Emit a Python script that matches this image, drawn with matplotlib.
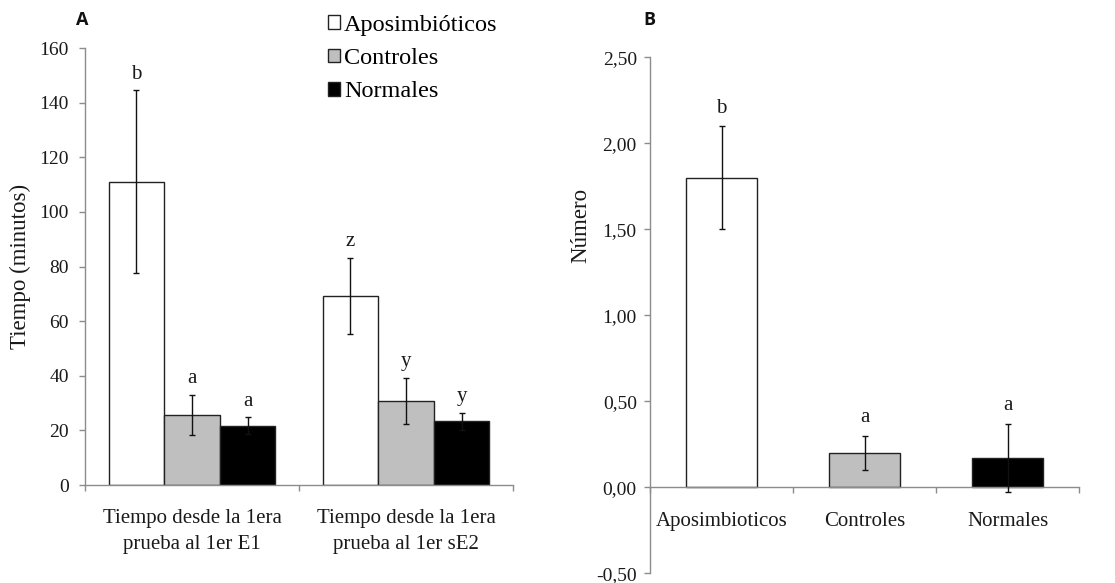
import matplotlib
matplotlib.use("Agg")
import matplotlib.pyplot as plt
from matplotlib.ticker import FixedLocator, FuncFormatter
from matplotlib.patches import Patch

plt.rcParams['font.family'] = ['Liberation Serif', 'DejaVu Serif']

# ---------------- data ----------------
groups = ["Aposimbióticos", "Controles", "Normales"]
group_colors = ["#ffffff", "#bfbfbf", "#000000"]

categories_A = ["Tiempo desde la 1era\nprueba al 1er E1",
                "Tiempo desde la 1era\nprueba al 1er sE2"]
apo_A = [111.0, 69.2]
apo_err_A = [33.5, 14.0]
ctrl_A = [25.7, 30.8]
ctrl_err_A = [7.4, 8.5]
norm_A = [21.7, 23.3]
norm_err_A = [3.1, 3.1]
letters_apo_A = ["b", "z"]
letters_ctrl_A = ["a", "y"]
letters_norm_A = ["a", "y"]
yticks_A = [0, 20, 40, 60, 80, 100, 120, 140, 160]

categories_B = ["Aposimbioticos", "Controles", "Normales"]
values_B = [1.80, 0.20, 0.17]
err_B = [0.30, 0.10, 0.20]
letters_B = ["b", "a", "a"]
yticks_B = [-0.5, 0.0, 0.5, 1.0, 1.5, 2.0, 2.5]

# ---------------- figure ----------------
W, H = 1115, 583
fig = plt.figure(figsize=(W / 100, H / 100), dpi=100)

spine_col = "#8c8c8c"
txt_col = "#1a1a1a"
tick_fs = 14
cat_fs = 15
label_fs = 16.5
letter_fs = 15

def style_axes(ax):
    for s in ["top", "right"]:
        ax.spines[s].set_visible(False)
    for s in ["left", "bottom"]:
        ax.spines[s].set_color(spine_col)
        ax.spines[s].set_linewidth(1.0)
    ax.tick_params(axis="both", which="major", color=spine_col, length=4.5, width=1.0,
                   labelcolor=txt_col, labelsize=tick_fs)

# ---------------- panel A ----------------
axA = fig.add_axes([85 / W, (H - 485) / H, 428 / W, 437 / H])
style_axes(axA)
bw = 0.26
xA = list(range(len(categories_A)))
series_A = [(apo_A, apo_err_A, letters_apo_A),
            (ctrl_A, ctrl_err_A, letters_ctrl_A),
            (norm_A, norm_err_A, letters_norm_A)]
for i, (vals, errs, lets) in enumerate(series_A):
    xs = [x + (i - 1) * bw for x in xA]
    axA.bar(xs, vals, width=bw, color=group_colors[i], edgecolor="#222222",
            linewidth=1.0, label=groups[i], zorder=2)
    axA.errorbar(xs, vals, yerr=errs, fmt="none", ecolor="#111111",
                 elinewidth=1.0, capsize=2.5, capthick=1.0, zorder=3)
    for x, v, e, l in zip(xs, vals, errs, lets):
        axA.annotate(l, (x, v + e), xytext=(0, 11.5), textcoords="offset points",
                     ha="center", va="center", fontsize=letter_fs, color=txt_col)

axA.set_xlim(-0.5, len(categories_A) - 0.5)
axA.set_ylim(0, 160)
axA.yaxis.set_major_locator(FixedLocator(yticks_A))
axA.tick_params(axis="y", pad=7)
axA.xaxis.set_major_locator(FixedLocator([-0.5, 0.5, 1.5]))
axA.xaxis.set_major_formatter(FuncFormatter(lambda v, p: ""))
axA.xaxis.set_minor_locator(FixedLocator(xA))
axA.set_xticklabels(categories_A, minor=True, linespacing=1.5)
axA.tick_params(axis="x", which="minor", length=0, pad=17.5, labelsize=cat_fs,
                labelcolor=txt_col)
axA.set_ylabel("Tiempo (minutos)", fontsize=label_fs, color=txt_col, labelpad=6)

handles = [Patch(facecolor=c, edgecolor="#222222", linewidth=1.0) for c in group_colors]
fig.legend(handles, groups, loc="upper left", bbox_to_anchor=(328 / W, 1 - 15 / H),
           frameon=False, fontsize=17.5, handlelength=0.5, handleheight=0.5,
           handletextpad=0.15, labelspacing=0.5, borderaxespad=0, borderpad=0)

fig.text(82 / W, 1 - 20 / H, "A", fontsize=13, fontweight="bold",
         family="Open Sans", ha="center", va="center", color="#111111")

# ---------------- panel B ----------------
axB = fig.add_axes([650 / W, (H - 573.3) / H, 429 / W, 516 / H])
style_axes(axB)
xB = list(range(len(categories_B)))
axB.bar(xB, values_B, width=0.5, color=group_colors, edgecolor="#222222",
        linewidth=1.0, zorder=2)
axB.errorbar(xB, values_B, yerr=err_B, fmt="none", ecolor="#111111",
             elinewidth=1.0, capsize=2.5, capthick=1.0, zorder=3)
for x, v, e, l in zip(xB, values_B, err_B, letters_B):
    axB.annotate(l, (x, v + e), xytext=(0, 13), textcoords="offset points",
                 ha="center", va="center", fontsize=letter_fs, color=txt_col)

axB.set_xlim(-0.5, len(categories_B) - 0.5)
axB.set_ylim(-0.5, 2.5)
axB.spines["bottom"].set_position(("data", 0))
axB.yaxis.set_major_locator(FixedLocator(yticks_B))
axB.yaxis.set_major_formatter(FuncFormatter(lambda v, p: f"{v:.2f}".replace(".", ",")))
axB.tick_params(axis="y", pad=5)
axB.xaxis.set_major_locator(FixedLocator([-0.5, 0.5, 1.5, 2.5]))
axB.xaxis.set_major_formatter(FuncFormatter(lambda v, p: ""))
axB.xaxis.set_minor_locator(FixedLocator(xB))
axB.set_xticklabels(categories_B, minor=True)
axB.tick_params(axis="x", which="minor", length=0, pad=18, labelsize=cat_fs,
                labelcolor=txt_col)
axB.set_ylabel("Número", fontsize=label_fs, color=txt_col)
axB.yaxis.set_label_coords(-59 / 429, (573.3 - 225) / 516)

fig.text(649 / W, 1 - 20 / H, "B", fontsize=13, fontweight="bold",
         family="Open Sans", ha="center", va="center", color="#111111")

fig.savefig("out.png", dpi=100, facecolor="white")
